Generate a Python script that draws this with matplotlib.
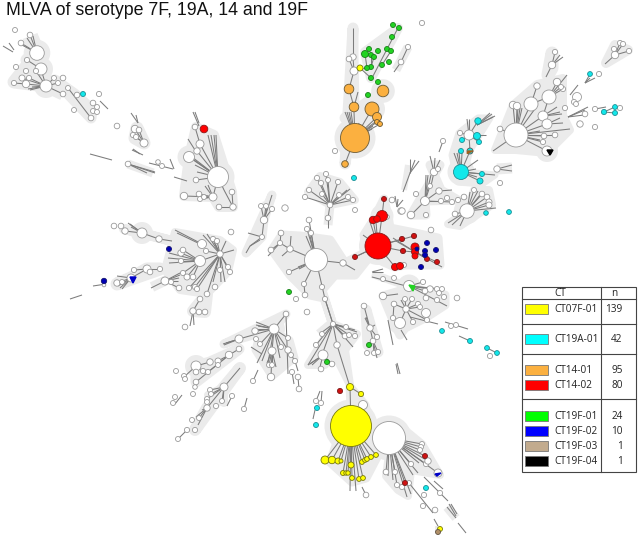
import matplotlib
matplotlib.use("Agg")
import matplotlib.pyplot as plt
from matplotlib.collections import LineCollection
from matplotlib.patches import Circle, Polygon, Rectangle

TITLE = "MLVA of serotype 7F, 19A, 14 and 19F"

# nodes are (x, y, radius) in pixels
WHITE = [
    (37, 53, 7.3), (41, 69, 6), (46, 86, 6), (15, 30, 2.5), (30, 35, 2.8), (21, 43, 2.8), (16, 67, 2.6),
    (26, 71, 2.6), (27, 60, 2.6), (36, 71, 2.6), (22, 78, 3), (14, 83, 2.6), (26, 84, 3.7), (29, 78, 2.6),
    (54, 78, 2.5), (63, 78, 2.8), (58, 83, 2.5), (68, 88, 2.5), (63, 94, 2.8), (77, 95, 2.8), (99, 94, 2.6),
    (93, 103, 2.8), (97, 107, 2.5), (93, 111, 2.5), (97, 112, 2.5), (91, 118, 2.8), (74, 110, 2.5), (117, 126, 2.8),
    (144, 143, 4), (135, 129, 3.7), (139, 130, 2.8), (133, 135, 2.6), (136, 137, 2.6), (128, 164, 2.8),
    (158, 162, 2.3), (162, 166, 2.5),
    (218, 177, 10.5), (189, 157, 5.5), (200, 144, 4), (197, 151, 3.2), (195, 127, 2.8), (196, 180, 2.8), (184, 196, 3.7),
    (199, 194, 2.8), (213, 197, 4), (200, 199, 2.5), (204, 197, 2.5), (232, 192, 2.8), (233, 207, 3.2), (219, 207, 2.8),
    (285, 208, 3.2), (231, 232, 2.8),
    (264, 220, 3.7), (262, 237, 2.5), (266, 206, 2.5), (261, 206, 2.5), (272, 209, 2.6),
    (142, 233, 5), (159, 239, 3.2), (125, 231, 3.2), (121, 226, 2.8), (114, 226, 2.8),
    (200, 261, 5.5), (202, 244, 4.5), (220, 254, 3.2), (181, 253, 3.2), (183, 250, 2.8), (181, 261, 2.6), (206, 251, 2.6),
    (213, 239, 2.6), (217, 241, 2.6), (220, 270, 2.6), (228, 267, 2.6), (230, 272, 2.6), (183, 273, 2.6), (187, 277, 3),
    (193, 277, 2.8), (165, 281, 4), (171, 282, 2.6), (179, 288, 2.8), (189, 288, 2.6), (195, 287, 2.6), (197, 289, 2.6),
    (207, 294, 2.8), (200, 299, 2.8), (193, 311, 3.2), (199, 312, 2.8), (205, 312, 2.8), (215, 287, 2.8), (185, 327, 2.8),
    (131, 278, 4), (117, 283, 3.2), (122, 282, 2.5), (147, 269, 4), (150, 272, 2.8), (160, 269, 2.6), (134, 270, 2.6), (104, 285, 1.8),
    (274, 329, 5), (286, 314, 2.8), (255, 331, 3.2), (239, 339, 4), (256, 339, 2.5), (260, 344, 2.5), (272, 351, 4),
    (288, 338, 2.5), (288, 350, 3.2), (281, 347, 2.5), (291, 355, 2.5), (295, 361, 2.6), (269, 365, 2.5), (272, 365, 2.5),
    (271, 377, 3.7), (292, 372, 2.6), (298, 377, 2.8), (299, 389, 2.8), (253, 381, 2.6),
    (229, 355, 3.7), (239, 349, 2.8), (218, 361, 3), (210, 362, 3.2), (196, 366, 5), (196, 372, 2.8), (203, 371, 2.6),
    (208, 372, 2.6), (196, 382, 2.8), (195, 387, 2.3), (218, 365, 2.5), (184, 376, 2.5), (185, 379, 2.5), (176, 371, 2.5), (193, 394, 2.5),
    (224, 387, 4), (210, 390, 2.5), (211, 394, 2.5), (207, 399, 2.5), (207, 402, 2.5), (207, 408, 3.2), (222, 401, 2.5),
    (216, 406, 2.6), (232, 396, 2.6), (199, 418, 2.5), (192, 420, 2.5), (195, 430, 2.6), (187, 430, 2.6), (178, 439, 2.5),
    (175, 397, 2.5), (173, 403, 2.5), (244, 409, 2.6),
    (316, 260, 11.5), (290, 249, 3.2), (280, 243, 2.6), (281, 233, 2.8), (271, 250, 2.8), (309, 220, 2.8), (307, 229, 2.6),
    (311, 233, 2.6), (289, 272, 2.6), (304, 284, 2.6), (305, 295, 2.8), (322, 287, 2.6), (325, 299, 2.6), (296, 299, 2.6),
    (307, 312, 2.8), (343, 263, 3.2),
    (333, 324, 2.6), (337, 345, 3.2), (345, 336, 2.8), (349, 335, 2.5), (355, 336, 2.6), (346, 327, 2.5), (322, 334, 2.5),
    (323, 355, 5), (332, 364, 2.8), (321, 369, 2.8), (316, 345, 2.6),
    (364, 306, 2.8), (370, 328, 3.2), (373, 341, 2.8), (377, 337, 2.6), (367, 353, 2.5), (374, 353, 2.5), (378, 352, 2.6),
    (383, 296, 3.7), (394, 304, 2.8), (400, 323, 5.5), (426, 313, 4.5), (406, 309, 3.2), (393, 318, 2.6), (405, 299, 2.5),
    (412, 299, 2.5), (418, 304, 2.6), (409, 286, 5.5), (423, 282, 2.6), (430, 289, 3.2), (425, 291, 2.8), (437, 289, 2.6),
    (442, 289, 2.5), (439, 293, 2.5), (444, 297, 2.6), (437, 300, 2.6), (426, 298, 2.8), (457, 298, 2.8), (420, 307, 2.5),
    (427, 320, 2.6), (413, 322, 2.6), (383, 279, 2.5), (394, 278, 2.5), (451, 326, 2.5), (456, 325, 2.5), (490, 356, 2.6),
    (363, 405, 4.5), (389, 438, 16.5), (366, 495, 2.8), (386, 472, 2.8), (395, 472, 2.6), (397, 485, 2.6), (402, 487, 2.6),
    (409, 483, 2.5), (411, 464, 2.6), (426, 464, 2.6), (428, 461, 3.2), (422, 444, 2.5), (421, 447, 2.5), (420, 450, 2.5),
    (438, 473, 4), (424, 495, 2.6), (423, 506, 2.6), (435, 510, 2.8), (440, 493, 2.6), (316, 401, 2.6), (321, 403, 2.6),
    (387, 217, 2.3), (392, 200, 2.8), (404, 265, 2.5), (431, 230, 2.8), (401, 211, 3.2),
    (354, 71, 4), (353, 57, 3.2), (349, 59, 2.8), (422, 23, 2.6), (408, 47, 2.6), (401, 62, 2.8), (335, 151, 2.6),
    (330, 205, 2.8), (317, 178, 2.6), (326, 174, 2.6), (321, 183, 2.6), (328, 180, 2.5), (338, 182, 2.6), (309, 190, 2.6),
    (305, 197, 2.6), (322, 194, 2.5), (339, 195, 2.5), (348, 197, 2.6), (353, 200, 2.6), (328, 218, 2.8), (355, 210, 2.5),
    (425, 201, 4.5), (411, 215, 3.7), (426, 215, 2.6), (439, 191, 3.2), (441, 201, 2.6), (447, 198, 2.6), (452, 202, 2.6),
    (458, 200, 2.6), (430, 186, 2.5), (416, 194, 2.6), (434, 172, 3.7), (438, 169, 2.5), (402, 211, 3.2), (443, 141, 2.6),
    (467, 211, 7.2), (455, 214, 2.8), (474, 190, 2.5), (464, 197, 2.8), (482, 194, 2.8), (487, 197, 2.8), (489, 202, 3), (489, 205, 3),
    (469, 135, 5), (460, 133, 2.6), (497, 169, 3.2), (500, 183, 2.6),
    (516, 135, 12), (531, 104, 7), (513, 105, 3.7), (517, 106, 3.7), (537, 86, 3.2), (500, 129, 2.8), (549, 97, 7), (543, 116, 5),
    (547, 124, 5), (557, 82, 3.7), (563, 89, 2.6), (561, 87, 2.5), (555, 135, 2.8), (544, 136, 2.8), (543, 142, 2.6),
    (547, 151, 5), (577, 97, 4.5), (574, 102, 2.6), (576, 104, 2.5), (565, 108, 2.6), (585, 114, 2.8), (580, 124, 3.2),
    (595, 127, 2.6), (595, 109, 2.6), (620, 108, 2.6), (599, 74, 2.6), (552, 65, 3.7), (555, 52, 2.6), (615, 55, 3.7),
    (620, 43, 2.6), (614, 49, 2.6), (623, 44, 2.6), (629, 51, 2.6),
]
YELLOW = [
    (351, 426, 20.5), (350, 387, 3.5), (361, 394, 2.6), (360, 68, 3), (325, 460, 4), (332, 460, 3.7), (338, 461, 3),
    (341, 461, 2), (351, 465, 3), (343, 473, 2.5), (346, 473, 2.2), (348, 473, 2.2), (352, 478, 2.4), (359, 479, 2.4),
    (363, 478, 2.4), (362, 462, 2.4), (365, 460, 2.4), (367, 459, 2.4), (371, 457, 2.4), (376, 455, 2.4), (440, 529, 2.5),
]
CYAN = [
    (461, 172, 7.5), (482, 174, 2.5), (480, 181, 3), (461, 151, 2.5), (462, 140, 2.5), (479, 142, 2.5), (477, 136, 3.5),
    (478, 121, 3.2), (83, 94, 2.5), (354, 178, 2.5), (442, 331, 2.4), (470, 341, 2.5), (487, 348, 2.4), (497, 353, 2.4),
    (317, 408, 2.5), (316, 425, 2.5), (426, 488, 2.5), (509, 212, 2.4), (486, 213, 2.3),
    (604, 112, 2.6), (615, 107, 2.4), (615, 113, 2.5), (590, 74, 2.4),
]
ORANGE = [
    (355, 138, 14.5), (372, 109, 7), (377, 117, 4.5), (377, 122, 2.5), (380, 124, 2.5), (354, 107, 4.8), (349, 89, 4.8),
    (383, 91, 5.8), (345, 164, 3.3),
]
RED = [(378, 246, 13), (382, 216, 5.5), (373, 220, 3.7), (377, 219, 3.3), (415, 247, 4), (415, 252, 3.5), (415, 256, 3),
       (395, 267, 3.5), (400, 266, 3.5), (204, 129, 3.8)]
DARK_RED = [(355, 257, 2.5), (384, 199, 2.5), (402, 239, 2.6), (403, 251, 2.6), (414, 236, 2.6), (427, 259, 2.5), (437, 262, 2.5),
            (340, 391, 2.6), (405, 483, 2.5), (425, 456, 2.5)]
GREEN = [
    (365, 54, 3.5), (369, 49, 2.5), (371, 55, 2.5), (374, 57, 2.5), (378, 51, 2.5), (387, 49, 2.5), (391, 51, 2.5),
    (392, 37, 2.5), (393, 25, 2.5), (399, 28, 2.5), (389, 62, 2.5), (382, 65, 2.5), (371, 67, 2.5), (367, 68, 2.5),
    (371, 78, 2.5), (378, 82, 2.5), (368, 95, 2.5), (289, 292, 2.5), (327, 362, 2.5), (369, 345, 2.5),
]
NAVY = [(169, 249, 2.5), (104, 281, 2.7), (427, 243, 2.5), (436, 250, 2.5), (425, 251, 2.5), (425, 255, 2.5),
        (417, 249, 2), (421, 267, 2.5)]
TAN = [(438, 532, 2.5)]
SPLIT_NODE = [(470, 151, 3)]

# (hub x, hub y, spoke ends)
FANS = [
    (37, 53, [(30, 35), (27, 38), (21, 43), (22, 45), (33, 36)]),
    (46, 86, [(26, 84), (29, 78), (22, 78), (28, 89), (30, 90), (32, 87), (54, 78), (58, 83), (63, 94), (36, 71)]),
    (144, 143, [(135, 129), (139, 130), (133, 135), (136, 137)]),
    (128, 164, [(155, 173), (155, 172), (147, 173)]),
    (218, 177, [(208, 135), (211, 135), (214, 135), (216, 135), (200, 144), (197, 151), (192, 157), (194, 160), (195, 165),
                (197, 172), (189, 157), (213, 197), (224, 190), (196, 180)]),
    (233, 207, [(224, 190), (232, 192), (219, 207)]),
    (213, 197, [(184, 196), (205, 186), (208, 185), (199, 194), (200, 199), (204, 197)]),
    (264, 220, [(266, 206), (261, 206), (272, 209), (268, 205), (272, 195), (262, 237)]),
    (262, 237, [(248, 233), (250, 246)]),
    (250, 246, [(246, 253), (260, 240)]),
    (142, 233, [(128, 223), (130, 224), (131, 227), (125, 231), (159, 239)]),
    (200, 261, [(169, 253), (168, 258), (169, 263), (181, 253), (183, 250), (181, 261), (183, 273), (187, 277), (193, 277),
                (220, 254)]),
    (220, 254, [(203, 235), (207, 234), (212, 238), (213, 239), (217, 241), (226, 241), (234, 250), (206, 251), (213, 282),
                (220, 270), (225, 282), (221, 282), (228, 267), (230, 272), (207, 294), (195, 287), (197, 289), (189, 288)]),
    (165, 281, [(180, 273), (180, 275), (179, 278), (178, 281), (151, 288), (171, 282), (179, 288)]),
    (193, 311, [(200, 299), (194, 325), (190, 326)]),
    (131, 278, [(120, 288), (122, 289), (118, 286), (117, 276), (147, 269), (117, 283)]),
    (147, 269, [(160, 269), (134, 270), (150, 272)]),
    (274, 329, [(256, 322), (258, 326), (256, 325), (257, 329), (255, 331), (286, 314), (239, 339), (260, 344), (272, 351),
                (257, 363), (262, 361), (268, 363), (280, 358), (288, 350), (281, 347), (288, 338)]),
    (239, 339, [(223, 344), (224, 345), (226, 343)]),
    (272, 351, [(269, 365), (272, 365), (276, 367), (267, 363), (271, 377)]),
    (229, 355, [(239, 349), (218, 361), (208, 372), (196, 382)]),
    (196, 366, [(210, 362), (196, 372), (184, 377), (203, 371)]),
    (224, 387, [(240, 368), (210, 390), (211, 394), (207, 408), (222, 401), (223, 402), (207, 399)]),
    (207, 408, [(199, 418), (202, 410), (198, 425), (196, 417)]),
    (316, 260, [(290, 249), (289, 272), (298, 267), (299, 269), (304, 284), (325, 299), (309, 220), (307, 229), (311, 233),
                (306, 236), (310, 236), (343, 263)]),
    (290, 249, [(280, 243), (291, 236), (282, 256)]),
    (280, 243, [(271, 250), (281, 233), (268, 256)]),
    (333, 324, [(321, 333), (322, 355), (316, 345), (337, 345), (345, 336), (346, 327), (349, 335), (355, 330), (357, 332),
                (353, 347), (308, 365), (325, 299)]),
    (323, 355, [(308, 365), (310, 364), (312, 365), (319, 371), (327, 362), (332, 364)]),
    (370, 328, [(366, 317), (365, 318), (375, 325), (364, 306), (373, 341), (377, 337)]),
    (373, 341, [(378, 352), (377, 358), (374, 353)]),
    (406, 309, [(394, 304), (405, 299), (412, 299), (418, 304), (400, 323), (413, 322), (427, 320), (420, 307), (401, 300)]),
    (409, 286, [(423, 282), (430, 289), (425, 291), (447, 306), (437, 289), (442, 289)]),
    (351, 426, [(325, 460), (332, 460), (338, 461), (341, 461), (351, 465), (343, 473), (346, 473), (348, 473), (352, 478), (359, 479),
                (363, 478), (362, 462), (365, 460), (367, 459), (371, 457), (376, 455), (356, 491), (350, 491), (350, 387)]),
    (389, 438, [(386, 472), (388, 476), (393, 480), (395, 472), (397, 485), (405, 483), (407, 497), (411, 494), (413, 475), (418, 473),
                (426, 464), (428, 461), (438, 473), (422, 444), (421, 447), (420, 450), (425, 456), (411, 464), (419, 463)]),
    (378, 246, [(373, 220), (382, 216), (370, 222), (376, 222), (363, 235), (383, 235), (387, 236), (402, 239), (403, 251),
                (395, 267), (355, 257)]),
    (415, 252, [(403, 251), (437, 262), (427, 259), (393, 238), (396, 241), (442, 267)]),
    (397, 207, [(395, 196), (403, 200), (398, 199)]),
    (355, 138, [(345, 112), (347, 112), (349, 112), (351, 112), (345, 164), (372, 109), (377, 117), (377, 122), (380, 124),
                (375, 122), (373, 126), (372, 129), (354, 112), (359, 123)]),
    (330, 205, [(317, 178), (326, 174), (321, 183), (328, 180), (338, 182), (309, 190), (305, 197), (322, 194), (339, 195),
                (348, 197), (353, 200), (350, 189), (347, 190), (328, 218)]),
    (425, 201, [(411, 215), (439, 191), (452, 202), (441, 201), (430, 186), (426, 175), (428, 175), (431, 175), (420, 200)]),
    (434, 172, [(430, 156), (435, 158), (440, 160), (438, 169), (431, 186)]),
    (410, 173, [(403, 192), (410, 159), (415, 160), (419, 161)]),
    (467, 211, [(474, 190), (478, 191), (482, 194), (487, 197), (489, 202), (489, 205), (480, 195), (455, 214), (448, 223),
                (452, 225), (460, 226), (496, 208), (470, 192)]),
    (461, 172, [(454, 153), (457, 153), (459, 152), (462, 153), (470, 151), (478, 160), (482, 174), (480, 181), (495, 175),
                (476, 169), (477, 177)]),
    (469, 135, [(470, 151), (467, 119), (469, 119), (478, 121), (462, 140), (460, 133), (479, 142), (486, 135)]),
    (477, 125, [(490, 113), (492, 114), (493, 117), (495, 116)]),
    (516, 135, [(513, 105), (517, 106), (518, 108), (520, 108), (522, 108), (531, 104), (537, 106), (543, 116), (547, 124),
                (570, 129), (555, 135), (544, 136), (543, 142), (547, 151), (540, 131), (540, 140), (493, 151), (500, 129)]),
    (549, 97, [(531, 104), (557, 82), (567, 75), (563, 89), (561, 87), (543, 116)]),
    (543, 116, [(557, 107), (560, 112), (562, 114)]),
    (568, 117, [(588, 107), (584, 115), (585, 110)]),
    (552, 65, [(546, 77), (555, 52), (563, 57), (560, 55)]),
    (615, 55, [(605, 64), (620, 43), (623, 44), (629, 51), (614, 49)]),
    (585, 83, [(590, 74), (595, 78), (590, 78)]),
    (604, 112, [(615, 113), (615, 107)]),
]

# stray single branches, x1 y1 x2 y2
SEGMENTS = [
    (3, 46, 13, 52), (9, 43, 14, 50), (27, 60, 41, 69), (41, 69, 46, 86), (14, 83, 26, 84), (68, 88, 91, 118), (100, 101, 108, 109),
    (131, 113, 138, 123), (136, 115, 138, 123), (132, 150, 143, 155), (133, 149, 140, 154), (90, 154, 112, 160),
    (149, 163, 173, 169), (170, 159, 174, 169), (174, 177, 187, 181), (193, 112, 199, 126), (195, 112, 199, 123), (195, 127, 200, 144),
    (188, 139, 195, 150), (159, 239, 172, 241), (175, 230, 202, 244), (177, 233, 198, 243), (93, 286, 106, 284), (70, 299, 82, 295),
    (286, 315, 288, 374), (288, 350, 295, 361), (295, 361, 298, 371), (292, 372, 294, 384), (298, 377, 299, 389), (253, 381, 258, 370),
    (251, 347, 262, 354), (232, 396, 227, 406), (178, 439, 187, 430), (175, 404, 182, 395), (244, 409, 247, 398), (304, 284, 305, 295),
    (325, 299, 333, 324), (337, 345, 350, 387), (350, 387, 361, 394), (343, 263, 355, 270), (355, 257, 378, 246), (388, 320, 393, 345),
    (397, 363, 400, 374), (396, 364, 398, 374), (372, 277, 410, 287), (372, 272, 383, 269), (372, 272, 383, 272),
    (383, 296, 398, 294), (394, 304, 393, 318), (401, 330, 407, 340), (410, 317, 438, 324), (445, 322, 468, 329), (459, 336, 470, 341),
    (487, 348, 497, 353), (362, 487, 366, 495), (409, 483, 433, 513), (424, 477, 448, 501), (434, 481, 443, 489), (447, 507, 456, 518),
    (449, 504, 456, 516), (451, 504, 457, 514), (458, 523, 466, 533), (434, 519, 438, 526), (320, 391, 316, 401), (322, 391, 321, 403),
    (315, 410, 313, 419), (328, 218, 328, 228), (354, 71, 349, 89), (349, 89, 354, 107), (354, 107, 358, 92), (353, 28, 353, 57),
    (354, 71, 349, 59), (353, 57, 354, 71), (354, 71, 371, 67), (360, 68, 371, 78), (372, 78, 398, 28), (382, 65, 391, 51), (371, 67, 371, 55),
    (367, 68, 365, 54), (371, 67, 374, 57), (401, 62, 408, 47), (401, 62, 394, 72), (439, 152, 443, 141), (497, 169, 512, 165),
    (497, 169, 512, 171), (570, 95, 578, 85), (595, 109, 606, 107), (531, 104, 537, 86), (547, 124, 563, 123), (547, 124, 560, 118),
    (439, 191, 452, 190), (384, 199, 382, 216), (378, 246, 414, 236),
]

# grey backdrop areas, outline points and stroke width in pixels
HALOS = [
    ([(37, 53), (27, 60), (41, 69), (46, 86), (14, 82)], 13),
    ([(30, 36), (37, 53)], 16),
    ([(46, 86), (63, 94)], 13), ([(55, 80), (76, 95), (92, 110), (91, 118)], 11),
    ([(137, 128), (144, 143), (135, 138)], 13),
    ([(128, 164), (153, 173)], 9),
    ([(196, 127), (214, 135), (232, 192), (233, 207), (219, 207), (213, 197), (184, 196), (189, 157)], 10),
    ([(272, 195), (264, 220), (262, 237), (246, 253)], 9), ([(262, 207), (270, 208)], 11),
    ([(124, 229), (142, 233), (172, 241)], 10),
    ([(175, 232), (220, 240), (233, 250), (228, 272), (207, 294), (180, 290), (165, 270)], 8),
    ([(152, 287), (175, 276)], 10), ([(207, 294), (193, 311), (205, 312)], 12),
    ([(117, 284), (131, 278), (147, 269), (160, 269)], 13),
    ([(286, 314), (274, 329), (239, 339), (224, 344)], 9),
    ([(262, 325), (290, 340), (295, 358), (272, 377), (255, 350)], 7),
    ([(196, 366), (210, 362), (239, 349), (196, 382)], 11),
    ([(240, 368), (224, 387), (207, 408), (195, 430)], 12), ([(224, 387), (208, 395), (224, 403)], 8),
    ([(300, 236), (330, 240), (345, 263), (378, 246), (355, 275), (335, 275), (322, 290), (332, 322), (324, 298), (310, 295), (290, 275), (272, 250), (282, 235)], 9),
    ([(333, 324), (357, 334), (345, 350), (350, 385), (330, 345), (325, 365), (308, 365)], 8),
    ([(333, 324), (320, 335)], 12),
    ([(366, 310), (378, 352), (368, 345)], 11),
    ([(383, 296), (410, 288), (445, 295), (445, 305), (425, 318), (405, 328), (400, 335), (393, 320)], 9),
    ([(372, 274), (410, 287)], 8),
    ([(350, 387), (351, 405), (330, 462), (352, 482), (366, 478), (378, 455), (365, 405)], 9),
    ([(389, 455), (386, 476), (398, 490), (408, 496), (411, 470), (440, 475), (422, 444), (405, 430)], 8),
    ([(447, 507), (456, 518)], 9), ([(438, 526), (438, 532)], 6),
    ([(384, 199), (373, 221), (364, 235), (368, 255), (395, 267), (405, 265), (440, 265), (438, 238), (410, 232), (390, 228), (388, 216)], 9),
    ([(353, 28), (353, 57), (354, 107), (345, 164)], 11), ([(345, 118), (370, 118), (383, 91)], 11),
    ([(365, 52), (371, 78), (398, 28)], 10), ([(408, 47), (396, 70)], 9),
    ([(330, 205), (308, 192), (320, 176), (340, 182), (355, 200)], 8), ([(330, 205), (328, 225)], 9),
    ([(411, 215), (425, 201), (458, 200), (441, 190), (430, 165), (440, 165)], 9), ([(425, 201), (426, 215), (411, 215)], 9),
    ([(408, 165), (404, 190)], 6),
    ([(448, 224), (467, 211), (474, 190), (489, 190), (492, 205), (460, 226)], 8),
    ([(478, 118), (490, 118), (470, 150), (464, 172), (495, 175), (482, 184), (458, 182), (452, 155), (459, 133)], 7),
    ([(497, 169), (512, 168)], 11),
    ([(495, 150), (513, 105), (537, 84), (563, 78), (563, 115), (570, 130), (547, 153), (516, 150)], 8),
    ([(552, 53), (552, 68), (548, 75)], 13),
    ([(606, 63), (615, 45), (628, 50)], 10),
]

LEGEND_LABELS = ["CT07F-01", "CT19A-01", "CT14-01", "CT14-02", "CT19F-01", "CT19F-02", "CT19F-03", "CT19F-04"]
LEGEND_N = [139, 42, 95, 80, 24, 10, 1, 1]
LEGEND_COLOURS = ["#ffff00", "#00ffff", "#fbb040", "#ff0000", "#00ff00", "#0000ff", "#c2ab8e", "#000000"]
LEGEND_Y = [309, 339, 370, 385, 416, 431, 446, 461]
LEGEND_RULES = [299, 324, 354, 399]

HALO_GREY = "#ebebeb"
LINE_GREY = "#7c7c7c"


def px(w):
    # pixel widths to points at dpi 100
    return w * 0.72


def add_nodes(ax, nodes, fc, ec, lw=0.6, z=3):
    for x, y, r in nodes:
        ax.add_patch(Circle((x, y), r, fc=fc, ec=ec, lw=lw, zorder=z))


fig = plt.figure(figsize=(6.39, 5.37), dpi=100)
ax = fig.add_axes([0, 0, 1, 1])
ax.set_xlim(0, 639)
ax.set_ylim(537, 0)
ax.axis("off")

for pts, w in HALOS:
    ax.add_patch(Polygon(pts, closed=True, fc=HALO_GREY, ec=HALO_GREY, lw=px(w), joinstyle="round", zorder=1))
for group in (WHITE, YELLOW, CYAN, ORANGE, RED):
    for x, y, r in group:
        if r >= 5:
            ax.add_patch(Circle((x, y), r + 6, fc=HALO_GREY, ec="none", zorder=1))

segs = [[(x1, y1), (x2, y2)] for x1, y1, x2, y2 in SEGMENTS]
for hx, hy, ends in FANS:
    segs += [[(hx, hy), e] for e in ends]
ax.add_collection(LineCollection(segs, colors=LINE_GREY, linewidths=0.75, zorder=2))

add_nodes(ax, WHITE, "white", "#9a9a9a")
add_nodes(ax, YELLOW, "#ffff00", "#77770f", z=4)
add_nodes(ax, CYAN, "#12e8ea", "#1c8f95", z=4)
add_nodes(ax, ORANGE, "#fbb040", "#6b5a35", z=4)
add_nodes(ax, RED, "#ff0000", "#8a1a1a", z=4)
add_nodes(ax, DARK_RED, "#cf1111", "#7a1a1a", z=4)
add_nodes(ax, GREEN, "#22d322", "#1b7f1b", z=4)
add_nodes(ax, NAVY, "#0000b4", "#15156a", z=4)
add_nodes(ax, TAN, "#b08f68", "#5f5140", z=4)
add_nodes(ax, SPLIT_NODE, "#12e8ea", "#555555", z=4)

# pie slices inside mixed nodes
ax.fill([468, 473, 467], [151, 151, 153.5], color="#a2601d", zorder=5)
ax.fill([547, 553, 550], [150, 150, 155], color="black", zorder=5)
ax.fill([130, 136, 133], [277, 277, 283], color="#0000c8", zorder=5)
ax.fill([409, 415, 413], [285, 286, 291], color="#22d322", zorder=5)
ax.fill([435, 441, 437], [474, 473, 476], color="#0000c8", zorder=5)

ax.text(6, 10.5, TITLE, family="Liberation Sans", fontsize=12.75, color="#111111", ha="left", va="center")

# legend table
left, right, top, bottom, divider = 521.5, 636, 287, 472, 600.7
ax.add_patch(Rectangle((left, top), right - left, bottom - top, fc="white", ec="#444444", lw=0.8, zorder=6))
ax.plot([divider, divider], [top, bottom], color="#444444", lw=0.8, zorder=7)
for y in LEGEND_RULES:
    ax.plot([left, right], [y, y], color="#444444", lw=0.8, zorder=7)
ax.text(560, 294, "CT", family="Open Sans", fontsize=7.2, color="#222222", ha="center", va="center", zorder=8)
ax.text(614, 294, "n", family="Open Sans", fontsize=7.2, color="#222222", ha="center", va="center", zorder=8)
for label, n, colour, y in zip(LEGEND_LABELS, LEGEND_N, LEGEND_COLOURS, LEGEND_Y):
    ax.add_patch(Rectangle((525, y - 5.3), 22.5, 10.6, fc=colour, ec="#777777", lw=0.6, zorder=8))
    ax.text(554, y + 0.3, label, family="Open Sans", fontsize=7.2, color="#222222", ha="left", va="center", zorder=8)
    ax.text(622.5, y + 0.3, str(n), family="Open Sans", fontsize=7.2, color="#222222", ha="right", va="center", zorder=8)

fig.savefig("out.png", dpi=100)
plt.close(fig)
